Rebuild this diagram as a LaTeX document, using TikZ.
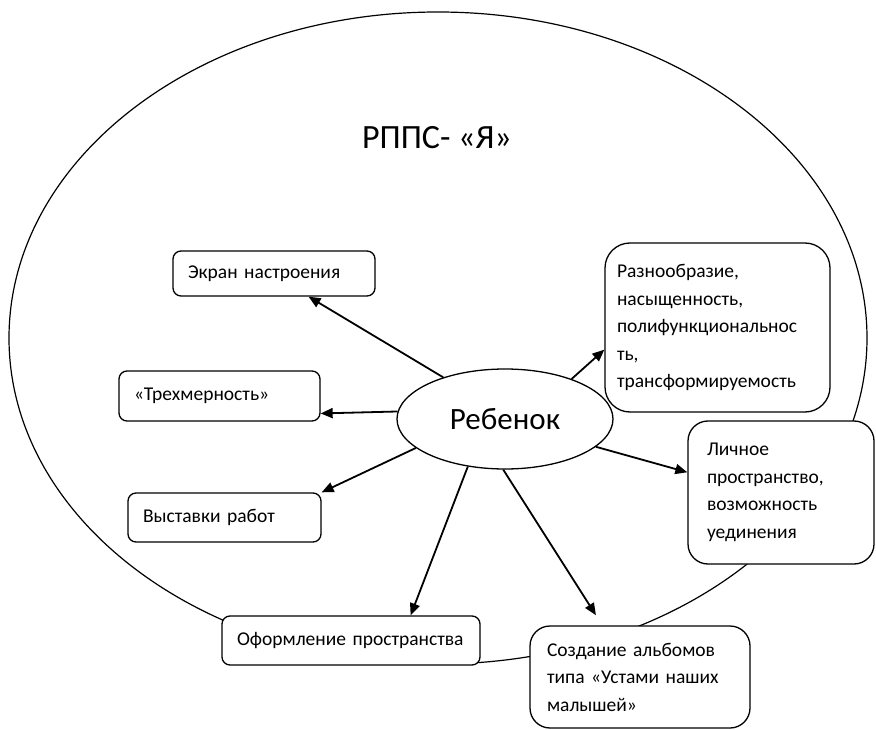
\documentclass[tikz,border=0pt]{standalone}
\usepackage{fontspec}
\setmainfont{Carlito}
\usetikzlibrary{shapes.geometric,arrows.meta,calc}
\begin{document}
\begin{tikzpicture}[x=1pt,y=-1pt,
  boxn/.style={draw, line width=1.3pt, fill=white, align=left, inner xsep=15pt, inner ysep=0pt,
    font=\fontsize{19.5}{27.5}\selectfont, rounded corners=8pt},
  arr/.style={line width=1.8pt, -{Triangle[length=12pt,width=10pt]}}]
\useasboundingbox (0,0) rectangle (876,730);
\node[ellipse, draw, line width=1.2pt, minimum width=858pt, minimum height=652pt, inner sep=0pt] (env) at (438,338) {};
\node[font=\fontsize{34}{38}\selectfont] (title) at (437,138) {РППС- «Я»};
\node[ellipse, draw, line width=1.3pt, fill=white, minimum width=216pt, minimum height=100pt, inner sep=0pt,
  font=\fontsize{31}{34}\selectfont] (reb) at (505,419) {Ребенок};
\node[boxn, text width=172pt, minimum height=45pt] (ekran) at (274,273.5) {Экран настроения};
\node[boxn, text width=171pt, minimum height=50pt] (tri) at (219.5,396) {«Трехмерность»};
\node[boxn, text width=163pt, minimum height=49pt] (vyst) at (224.5,517.5) {Выставки работ};
\node[boxn, text width=228pt, minimum height=49pt] (oform) at (351,640.5) {Оформление пространства};
\node[boxn, text width=186pt, inner xsep=17pt, minimum height=102pt, rounded corners=20pt] (sozd) at (640,677)
  {Создание альбомов\\типа «Устами наших\\малышей»};
\node[boxn, text width=148pt, inner xsep=19pt, minimum height=143pt, rounded corners=20pt] (lich) at (781,492.5)
  {Личное\\пространство,\\возможность\\уединения};
\node[boxn, text width=201pt, inner xsep=12pt, minimum height=169pt, rounded corners=25pt] (razn) at (717.5,327.5)
  {Разнообразие,\\насыщенность,\\полифункциональнос\\ть,\\трансформируемость};
\draw[arr] (reb.146.5) -- ($(ekran.south west)!0.67!(ekran.south east)$);
\draw[arr] (reb.176.8) -- ($(tri.north east)!0.84!(tri.south east)$);
\draw[arr] (reb.198.6) -- (vyst.north east);
\draw[arr] (reb.232.2) -- ($(oform.north west)!0.73!(oform.north east)$);
\draw[arr, shorten >=12pt] (reb.268) -- ($(sozd.north west)!0.33!(sozd.north east)$);
\draw[arr] (reb.31.5) -- ($(razn.north west)!0.63!(razn.south west)$);
\draw[arr] (reb.-17.5) -- ($(lich.north west)!0.36!(lich.south west)$);
\end{tikzpicture}
\end{document}
